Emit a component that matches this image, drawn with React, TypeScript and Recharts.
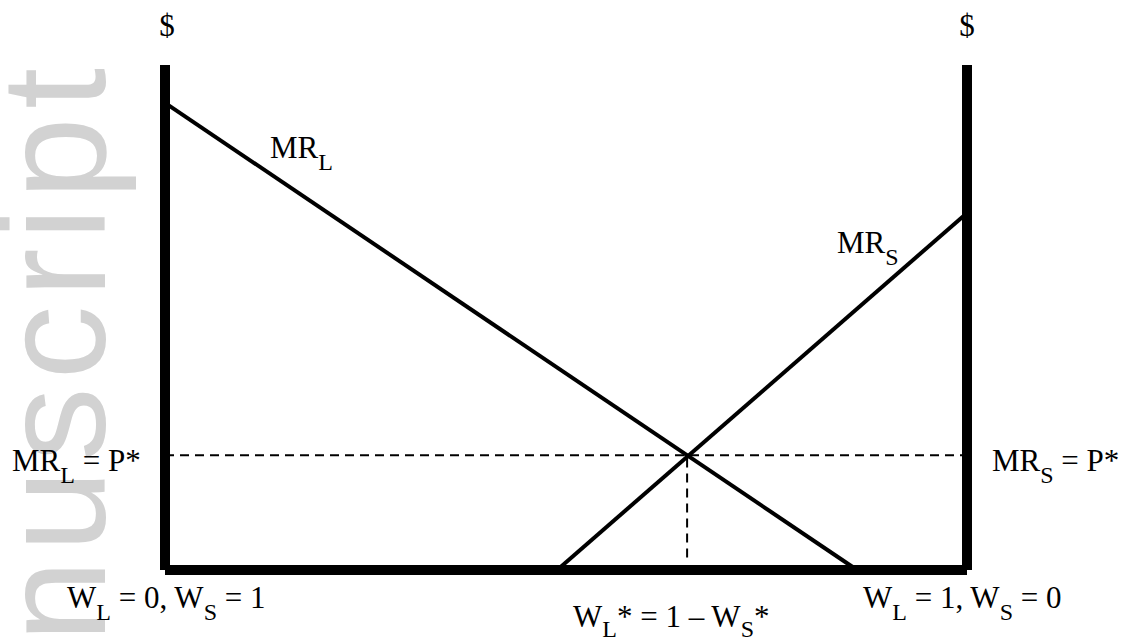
import { ComposedChart, Line, XAxis, YAxis, ReferenceLine } from 'recharts';

// share of wages going to L (0..1) and marginal revenue in $
const mrL = [
  { w: 0, v: 9.25 },
  { w: 0.863, v: 0 },
];
const mrS = [
  { w: 0.489, v: 0 },
  { w: 1, v: 7.07 },
];
const wStar = 0.651;
const pStar = 2.27;
const yMax = 10;

const W = 1122;
const H = 643;
const M = { top: 65, right: 155, bottom: 73, left: 165 };

const serif = '"Liberation Serif", "Times New Roman", serif';

function Sub({ main, sub, rest, x, y }: { main: string; sub: string; rest?: string; x: number; y: number }) {
  return (
    <text x={x} y={y} fontFamily={serif} fontSize={31} fill="#000">
      <tspan>{main}</tspan>
      <tspan fontSize={24} dy={12}>{sub}</tspan>
      {rest ? <tspan dy={-12}>{rest}</tspan> : null}
    </text>
  );
}

export default function App() {
  const plotH = H - M.top - M.bottom;
  const pY = M.top + (1 - pStar / yMax) * plotH + 16;

  return (
    <div style={{ position: 'absolute', left: 0, top: 0, width: W, height: H, background: '#fff' }}>
      <svg width={W} height={H} style={{ position: 'absolute', left: 0, top: 0 }}>
        <text
          x={105}
          y={60}
          transform="rotate(-90, 105, 60)"
          textAnchor="end"
          fontFamily='"Liberation Sans", Arial, sans-serif'
          fontSize={148}
          letterSpacing={8}
          fill="#d2d2d2"
        >
          Author Manuscript
        </text>
      </svg>
      <div style={{ position: 'absolute', left: 0, top: 0 }}>
        <ComposedChart width={W} height={H} margin={M}>
          <XAxis dataKey="w" type="number" domain={[0, 1]} hide />
          <YAxis type="number" domain={[0, yMax]} hide />
          {/* the three heavy axes */}
          <ReferenceLine x={0} stroke="#000" strokeWidth={10} />
          <ReferenceLine x={1} stroke="#000" strokeWidth={10} />
          <ReferenceLine y={0} stroke="#000" strokeWidth={10} />
          <ReferenceLine
            segment={[{ x: 0, y: pStar }, { x: 1, y: pStar }]}
            stroke="#000"
            strokeWidth={2}
            strokeDasharray="9 6"
          />
          <ReferenceLine
            segment={[{ x: wStar, y: 0.25 }, { x: wStar, y: pStar }]}
            stroke="#000"
            strokeWidth={2}
            strokeDasharray="9 6"
          />
          <Line data={mrL} dataKey="v" stroke="#000" strokeWidth={4} dot={false} activeDot={false} isAnimationActive={false} />
          <Line data={mrS} dataKey="v" stroke="#000" strokeWidth={4} dot={false} activeDot={false} isAnimationActive={false} />
        </ComposedChart>
      </div>
      <svg width={W} height={H} style={{ position: 'absolute', left: 0, top: 0, pointerEvents: 'none' }}>
        <text x={167} y={36} textAnchor="middle" fontFamily={serif} fontSize={31}>$</text>
        <text x={967} y={36} textAnchor="middle" fontFamily={serif} fontSize={31}>$</text>
        <Sub x={270} y={158} main="MR" sub="L" />
        <Sub x={837} y={253} main="MR" sub="S" />
        <Sub x={12} y={pY} main="MR" sub="L" rest=" = P*" />
        <Sub x={992} y={pY} main="MR" sub="S" rest=" = P*" />
        <text x={67} y={608} fontFamily={serif} fontSize={31}>
          <tspan>W</tspan>
          <tspan fontSize={24} dy={12}>L</tspan>
          <tspan dy={-12}> = 0, W</tspan>
          <tspan fontSize={24} dy={12}>S</tspan>
          <tspan dy={-12}> = 1</tspan>
        </text>
        <text x={573} y={627} fontFamily={serif} fontSize={31}>
          <tspan>W</tspan>
          <tspan fontSize={24} dy={10}>L</tspan>
          <tspan dy={-10}>* = 1 – W</tspan>
          <tspan fontSize={24} dy={10}>S</tspan>
          <tspan dy={-10}>*</tspan>
        </text>
        <text x={863} y={608} fontFamily={serif} fontSize={31}>
          <tspan>W</tspan>
          <tspan fontSize={24} dy={12}>L</tspan>
          <tspan dy={-12}> = 1, W</tspan>
          <tspan fontSize={24} dy={12}>S</tspan>
          <tspan dy={-12}> = 0</tspan>
        </text>
      </svg>
    </div>
  );
}
